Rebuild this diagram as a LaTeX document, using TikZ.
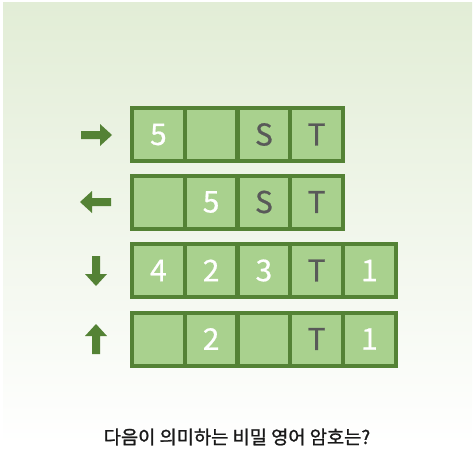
\documentclass[tikz,border=0pt]{standalone}
\usepackage{fontspec}
\setmainfont{Noto Sans CJK KR}
\newfontfamily\qfont[FakeBold=1.2]{Noto Sans CJK KR}
\newfontfamily\cfont[FakeBold=0.6]{Noto Sans CJK KR}
\definecolor{bgtop}{HTML}{E2EDD6}
\definecolor{cellfill}{HTML}{A9D18E}
\definecolor{celldraw}{HTML}{548235}
\definecolor{letter}{HTML}{595959}
\tikzset{
  cell/.style={draw=celldraw, fill=cellfill, line width=4pt, minimum width=52.75pt,
    minimum height=53pt, inner sep=0pt, font=\cfont\fontsize{30}{30}\selectfont, text=white},
  ltr/.style={text=letter},
  blockarrow/.style={fill=celldraw, draw=none},
}
\begin{document}
\begin{tikzpicture}[x=1pt,y=-1pt]
\useasboundingbox (0,0) rectangle (476,476);
\shade[top color=bgtop, bottom color=white] (3,3) rectangle (472,445);
% row 1
\node[cell] (a1) at (158.4,134.5) {5};
\node[cell] (a2) at (211.1,134.5) {};
\node[cell,ltr] (a3) at (263.9,134.5) {S};
\node[cell,ltr] (a4) at (316.6,134.5) {T};
% row 2
\node[cell] (b1) at (158.4,202) {};
\node[cell] (b2) at (211.1,202) {5};
\node[cell,ltr] (b3) at (263.9,202) {S};
\node[cell,ltr] (b4) at (316.6,202) {T};
% row 3
\node[cell] (c1) at (158.4,270.5) {4};
\node[cell] (c2) at (211.1,270.5) {2};
\node[cell] (c3) at (263.9,270.5) {3};
\node[cell,ltr] (c4) at (316.6,270.5) {T};
\node[cell] (c5) at (369.4,270.5) {1};
% row 4
\node[cell] (d1) at (158.4,339) {};
\node[cell] (d2) at (211.1,339) {2};
\node[cell] (d3) at (263.9,339) {};
\node[cell,ltr] (d4) at (316.6,339) {T};
\node[cell] (d5) at (369.4,339) {1};
% arrows
\fill[blockarrow] (81,131) -- (100,131) -- (100,124) -- (112,135) -- (100,146) -- (100,139) -- (81,139) -- cycle;
\fill[blockarrow] (111,198) -- (92,198) -- (92,191) -- (80,202) -- (92,213) -- (92,206) -- (111,206) -- cycle;
\fill[blockarrow] (92,256) -- (92,274) -- (85,274) -- (96,286) -- (107,274) -- (100,274) -- (100,256) -- cycle;
\fill[blockarrow] (92,354) -- (92,336) -- (85,336) -- (96,324) -- (107,336) -- (100,336) -- (100,354) -- cycle;
% question
\node[font=\qfont\fontsize{18.7}{18.7}\selectfont, text=black!90, inner sep=0pt] (q) at (237,437) {다음이 의미하는 비밀 영어 암호는?};
\end{tikzpicture}
\end{document}
